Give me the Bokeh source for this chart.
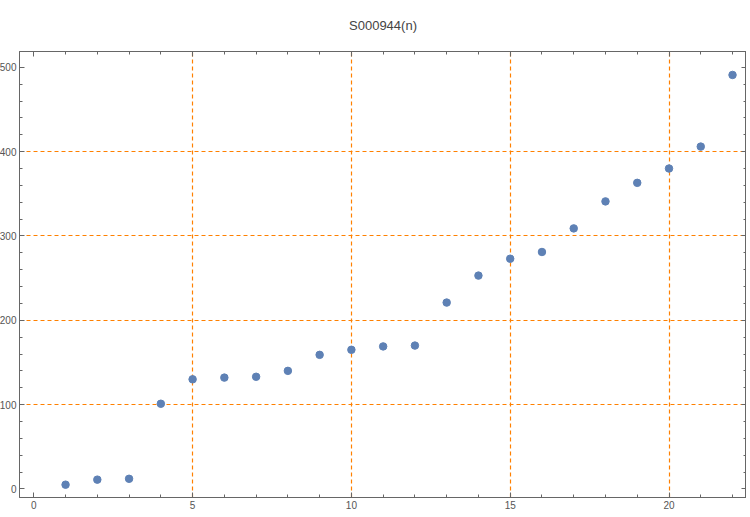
from bokeh.plotting import figure
from bokeh.models import LinearAxis, FixedTicker, Range1d, CustomJSTickFormatter, ColumnDataSource
from bokeh.embed import file_html
from bokeh.resources import INLINE

n_values = [1, 2, 3, 4, 5, 6, 7, 8, 9, 10, 11, 12, 13, 14, 15, 16, 17, 18, 19, 20, 21, 22]
s_values = [5, 11, 12, 101, 130, 132, 133, 140, 159, 165, 169, 170, 221, 253, 273, 281, 309, 341, 363, 380, 406, 491]
x_major_ticks = [0, 5, 10, 15, 20]
y_major_ticks = [0, 100, 200, 300, 400, 500]
x_grid_lines = [5, 10, 15, 20]
y_grid_lines = [100, 200, 300, 400]
title_text = "S000944(n)"

FONT = "Liberation Sans"
AXIS_COLOR = "#666666"
LABEL_COLOR = "#555555"
GRID_COLOR = "#FF8000"
POINT_COLOR = "#5E81B5"

p = figure(width=750, height=515, output_backend="svg", toolbar_location=None,
           x_range=Range1d(-0.45, 22.44), y_range=Range1d(-10.2, 518.8),
           x_axis_location=None, y_axis_location=None,
           min_border_left=0, min_border_right=0, min_border_top=0, min_border_bottom=0,
           styles={"margin-left": "-4px", "margin-top": "-4px"})

p.title.text = title_text
p.title.align = "center"
p.title.text_font = FONT
p.title.text_font_size = "13px"
p.title.text_font_style = "normal"
p.title.text_color = "#444444"
p.title.standoff = 38

p.outline_line_color = AXIS_COLOR
p.outline_line_width = 1
p.background_fill_color = "white"
p.border_fill_color = "white"

blank = CustomJSTickFormatter(code="return ''")

def style_axis(ax, ticks, minor, labels):
    ax.ticker = FixedTicker(ticks=ticks, minor_ticks=minor)
    ax.axis_line_color = AXIS_COLOR
    ax.major_tick_line_color = AXIS_COLOR
    ax.minor_tick_line_color = AXIS_COLOR
    ax.major_tick_in = 5
    ax.major_tick_out = 0
    ax.minor_tick_in = 3
    ax.minor_tick_out = 0
    ax.axis_label_standoff = 0
    ax.major_label_text_font = FONT
    ax.major_label_text_color = LABEL_COLOR
    if not labels:
        ax.formatter = blank
        ax.major_label_standoff = 0
        ax.major_label_text_font_size = "0px"
    else:
        ax.major_label_standoff = 3
        ax.major_label_text_font_size = "10px"

x_minor = [v for v in range(0, 23)]
y_minor = [v for v in range(-0, 520, 20)]

bottom = LinearAxis()
style_axis(bottom, x_major_ticks, x_minor, True)
left = LinearAxis()
style_axis(left, y_major_ticks, y_minor, True)
top = LinearAxis()
style_axis(top, x_major_ticks, x_minor, False)
right = LinearAxis()
style_axis(right, y_major_ticks, y_minor, False)

p.add_layout(bottom, "below")
p.add_layout(left, "left")
p.add_layout(top, "above")
p.add_layout(right, "right")

p.xgrid.ticker = FixedTicker(ticks=x_grid_lines)
p.ygrid.ticker = FixedTicker(ticks=y_grid_lines)
for g in (p.xgrid, p.ygrid):
    g.grid_line_color = GRID_COLOR
    g.grid_line_dash = "4 3"
    g.grid_line_width = 1.2

src = ColumnDataSource(data=dict(n=n_values, s=s_values))
p.scatter("n", "s", source=src, size=7.5, fill_color=POINT_COLOR, line_color=POINT_COLOR)

open("out.html", "w").write(file_html(p, INLINE))
